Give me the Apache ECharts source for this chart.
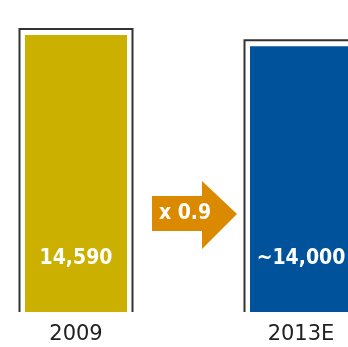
<!DOCTYPE html>
<html>
<head>
<meta charset="utf-8">
<script src="https://cdn.jsdelivr.net/npm/echarts@6/dist/echarts.min.js"></script>
<style>html,body{margin:0;padding:0;background:#fff}#c{width:348px;height:347px}</style>
</head>
<body>
<div id="c"></div>
<script>
const categories = ['2009', '2013E'];
const values = [14590, 14000];
const valueLabels = ['14,590', '~14,000'];
const barColors = ['#CBB000', '#00529B'];
const multiplierText = 'x 0.9';

const chart = echarts.init(document.getElementById('c'), null, {renderer: 'canvas'});
const BAR_W = 102;
const AXIS_FONT = '"DejaVu Sans", sans-serif';
const BOLD_FONT = '"DejaVu Sans Condensed", "DejaVu Sans", sans-serif';

chart.setOption({
  animation: false,
  backgroundColor: '#ffffff',
  grid: {left: -36.5, width: 450, top: 35, bottom: 35, outerBoundsMode: 'none', containLabel: false},
  xAxis: {
    type: 'category',
    data: categories,
    axisLine: {show: false},
    axisTick: {show: false},
    axisLabel: {color: '#222', fontSize: 21, fontFamily: AXIS_FONT, margin: 12}
  },
  yAxis: {type: 'value', min: 0, max: 14590, show: false, splitLine: {show: false}},
  series: [
    {
      type: 'custom',
      data: values.map((v, i) => [i, v]),
      renderItem: function (params, api) {
        const top = api.coord([api.value(0), api.value(1)]);
        const base = api.coord([api.value(0), 0]);
        const h = BAR_W / 2 + 5.5;
        return {
          type: 'polyline',
          shape: {points: [[top[0] - h, base[1]], [top[0] - h, top[1] - 6], [top[0] + h, top[1] - 6], [top[0] + h, base[1]]]},
          style: {stroke: '#333', lineWidth: 2, fill: null}
        };
      },
      silent: true
    },
    {
      type: 'bar',
      barWidth: BAR_W,
      data: values.map((v, i) => ({value: v, itemStyle: {color: barColors[i]}})),
      label: {
        show: true,
        position: 'insideBottom',
        distance: 43,
        color: '#fff',
        fontSize: 21,
        fontWeight: 'bold',
        fontFamily: BOLD_FONT,
        formatter: p => valueLabels[p.dataIndex]
      }
    }
  ],
  graphic: [
    {
      type: 'polygon',
      shape: {points: [[152, 196], [202, 196], [202, 181], [237, 214], [202, 249], [202, 231], [152, 231]]},
      style: {fill: '#DB8A00'}
    },
    {
      type: 'text',
      x: 185, y: 214,
      style: {text: multiplierText, fill: '#fff', fontSize: 21, fontWeight: 'bold', fontFamily: BOLD_FONT, align: 'center', verticalAlign: 'middle'}
    }
  ]
});
</script>
</body>
</html>
